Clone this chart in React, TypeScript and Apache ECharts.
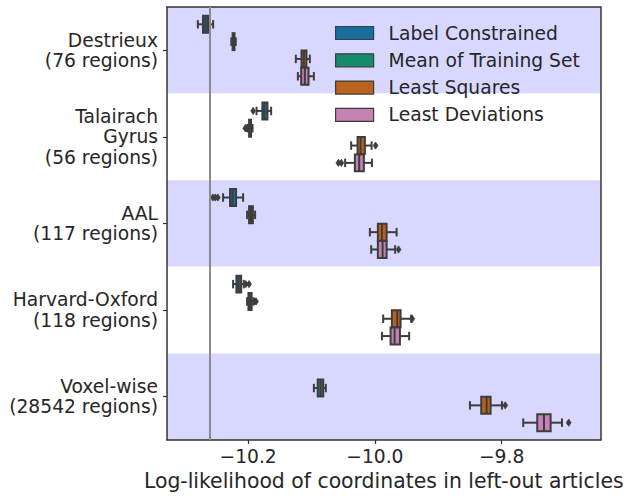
import React, { useEffect, useRef } from 'react';
import * as echarts from 'echarts';

const categories = [
  'Destrieux\n(76 regions)',
  'Talairach\nGyrus\n(56 regions)',
  'AAL\n(117 regions)',
  'Harvard-Oxford\n(118 regions)',
  'Voxel-wise\n(28542 regions)',
];

const hueNames = ['Label Constrained', 'Mean of Training Set', 'Least Squares', 'Least Deviations'];
const hueColors = ['#176d9c', '#168a6a', '#ba611b', '#c483b4'];

// [min whisker, Q1, median, Q3, max whisker] per category (null = absent)
const labelConstrained = [
  [-10.2794, -10.2712, -10.2672, -10.2632, -10.2552],
  [-10.1867, -10.1775, -10.1745, -10.1695, -10.1637],
  [-10.2395, -10.2285, -10.2246, -10.219, -10.2079],
  [-10.2237, -10.2185, -10.2152, -10.211, -10.2068],
  null,
];
const meanOfTrainingSet = [
  [-10.2265, -10.2245, -10.223, -10.2215, -10.2195],
  [-10.2005, -10.1985, -10.197, -10.1955, -10.193],
  [-10.2016, -10.1985, -10.1955, -10.1925, -10.189],
  [-10.2016, -10.1995, -10.1968, -10.1945, -10.1918],
  [-10.0963, -10.0902, -10.0857, -10.0815, -10.0774],
];
const leastSquares = [
  [-10.1247, -10.1158, -10.112, -10.108, -10.1026],
  [-10.0374, -10.0273, -10.0226, -10.0158, -10.0052],
  [-10.0079, -9.9953, -9.9889, -9.9815, -9.9657],
  [-9.9869, -9.9732, -9.9648, -9.9594, -9.9427],
  [-9.85, -9.8322, -9.8237, -9.8174, -9.7995],
];
const leastDeviations = [
  [-10.1215, -10.1163, -10.1105, -10.1047, -10.0963],
  [-10.0469, -10.0316, -10.0248, -10.0174, -10.0047],
  [-10.0058, -9.9953, -9.9878, -9.9815, -9.968],
  [-9.9889, -9.9752, -9.9689, -9.9605, -9.9459],
  [-9.7659, -9.7438, -9.7332, -9.7227, -9.7048],
];

// outliers per category
const labelConstrainedOutliers = [[], [-10.1921], [-10.2557, -10.2518, -10.2478], [-10.2036, -10.1985], []];
const meanOfTrainingSetOutliers = [[], [-10.2045, -10.2035, -10.202], [], [-10.1895, -10.1875], []];
const leastSquaresOutliers = [[], [-9.9989], [], [-9.941], [-9.7943]];
const leastDeviationsOutliers = [[], [-10.0576, -10.0529], [-9.9626], [], [-9.6942]];

const xTicks = [-10.2, -10.0, -9.8];
const xMin = -10.328;
const xMax = -9.644;
const referenceLine = -10.26;
const xAxisTitle = 'Log-likelihood of coordinates in left-out articles';

const boxData = [labelConstrained, meanOfTrainingSet, leastSquares, leastDeviations];
const outlierData = [labelConstrainedOutliers, meanOfTrainingSetOutliers, leastSquaresOutliers, leastDeviationsOutliers];

const FONT = 'DejaVu Sans';
const EDGE = '#3d3d3d';
const TEXT = '#262626';
const LW = 2;
const FS = 18.7;
const FS_TITLE = 20.4;

export default function App() {
  const ref = useRef<HTMLDivElement>(null);
  useEffect(() => {
    const chart = echarts.init(ref.current as HTMLDivElement, null, { renderer: 'svg' });

    const boxSeries = hueNames.map((name, h) => ({
      type: 'custom',
      name,
      coordinateSystem: 'cartesian2d',
      xAxisIndex: 0,
      yAxisIndex: 0,
      itemStyle: { color: hueColors[h], borderColor: EDGE },
      encode: { x: [1, 2, 3, 4, 5], y: 0 },
      data: boxData[h]
        .map((b, i) => (b ? [i, ...b] : null))
        .filter((d) => d !== null),
      z: 3,
      renderItem: (params: any, api: any) => {
        const cat = api.value(0);
        const band = api.size([0, 1])[1];
        const yc = api.coord([xMin, cat])[1] + (h - 1.5) * band * 0.2;
        const bh = band * 0.2 * 0.98;
        const xs = [1, 2, 3, 4, 5].map((k) => api.coord([api.value(k), cat])[0]);
        const [x0, x1, x2, x3, x4] = xs;
        const cap = bh * 0.25;
        const ls = { stroke: EDGE, lineWidth: LW };
        return {
          type: 'group',
          children: [
            { type: 'line', shape: { x1: x0, y1: yc, x2: x1, y2: yc }, style: ls },
            { type: 'line', shape: { x1: x3, y1: yc, x2: x4, y2: yc }, style: ls },
            { type: 'line', shape: { x1: x0, y1: yc - cap, x2: x0, y2: yc + cap }, style: ls },
            { type: 'line', shape: { x1: x4, y1: yc - cap, x2: x4, y2: yc + cap }, style: ls },
            {
              type: 'rect',
              shape: { x: x1, y: yc - bh / 2, width: x3 - x1, height: bh },
              style: { fill: hueColors[h], stroke: EDGE, lineWidth: LW },
            },
            { type: 'line', shape: { x1: x2, y1: yc - bh / 2, x2: x2, y2: yc + bh / 2 }, style: ls },
          ],
        };
      },
    }));

    const outlierPoints: number[][] = [];
    outlierData.forEach((perCat, h) =>
      perCat.forEach((vals, i) => vals.forEach((v) => outlierPoints.push([i, h, v])))
    );

    const outlierSeries = {
      type: 'custom',
      coordinateSystem: 'cartesian2d',
      encode: { x: 2, y: 0 },
      data: outlierPoints,
      z: 4,
      renderItem: (params: any, api: any) => {
        const cat = api.value(0);
        const h = api.value(1);
        const band = api.size([0, 1])[1];
        const p = api.coord([api.value(2), cat]);
        const yc = p[1] + (h - 1.5) * band * 0.2;
        const w = 2.4;
        const hh = 3.6;
        return {
          type: 'polygon',
          shape: { points: [[p[0] - w, yc], [p[0], yc - hh], [p[0] + w, yc], [p[0], yc + hh]] },
          style: { fill: EDGE, stroke: EDGE, lineWidth: 0.8 },
        };
      },
      markLine: {
        silent: true,
        symbol: 'none',
        animation: false,
        label: { show: false },
        lineStyle: { color: '#8a8a8a', width: 2, type: 'solid' },
        data: [{ xAxis: referenceLine }],
      },
    };

    const option: any = {
      animation: false,
      backgroundColor: '#ffffff',
      textStyle: { fontFamily: FONT },
      grid: { left: 167, right: 25.5, top: 7, bottom: 56, containLabel: false, outerBoundsMode: 'none' },
      legend: {
        orient: 'vertical',
        left: 330,
        top: 17,
        itemWidth: 38,
        itemHeight: 13,
        itemGap: 5.3,
        icon: 'rect',
        selectedMode: false,
        textStyle: { fontSize: FS, color: TEXT, fontFamily: FONT, lineHeight: 22, padding: [0, 0, 0, 10] },
        data: hueNames.map((n, h) => ({
          name: n,
          icon: 'rect',
          itemStyle: { color: hueColors[h], borderColor: EDGE, borderWidth: 1.2 },
        })),
      },
      xAxis: [
        {
          type: 'value',
          min: xMin,
          max: xMax,
          name: xAxisTitle,
          nameLocation: 'middle',
          nameGap: 30,
          nameTextStyle: { fontSize: FS_TITLE, color: TEXT, fontFamily: FONT },
          axisLine: { show: true, onZero: false, lineStyle: { color: '#333', width: 1.5 } },
          axisTick: { show: true, length: 4, customValues: xTicks, lineStyle: { color: '#333', width: 1.2 } },
          axisLabel: {
            fontSize: FS,
            color: TEXT,
            fontFamily: FONT,
            margin: 7,
            customValues: xTicks,
            formatter: (v: number) => v.toFixed(1).replace('-', '\u2212'),
          },
          splitLine: { show: false },
        },
        {
          type: 'value',
          position: 'top',
          min: xMin,
          max: xMax,
          axisLine: { show: true, onZero: false, lineStyle: { color: '#333', width: 1.5 } },
          axisTick: { show: false },
          axisLabel: { show: false },
          splitLine: { show: false },
        },
      ],
      yAxis: [
        {
          type: 'category',
          data: categories,
          inverse: true,
          axisLine: { show: true, onZero: false, lineStyle: { color: '#333', width: 1.5 } },
          axisTick: { show: true, alignWithLabel: true, length: 4, lineStyle: { color: '#333', width: 1.2 } },
          axisLabel: {
            fontSize: FS,
            color: TEXT,
            fontFamily: FONT,
            lineHeight: 20.5,
            align: 'right',
            margin: 9,
          },
          splitArea: { show: true, areaStyle: { color: ['#d8d8ff', '#ffffff'] } },
          splitLine: { show: false },
        },
        {
          type: 'category',
          data: categories,
          inverse: true,
          position: 'right',
          axisLine: { show: true, onZero: false, lineStyle: { color: '#333', width: 1.5 } },
          axisTick: { show: false },
          axisLabel: { show: false },
          splitLine: { show: false },
        },
      ],
      series: [...boxSeries, outlierSeries],
    };

    chart.setOption(option);
    return () => chart.dispose();
  }, []);

  return <div ref={ref} style={{ position: 'fixed', left: 0, top: 0, width: 626, height: 496 }} />;
}
